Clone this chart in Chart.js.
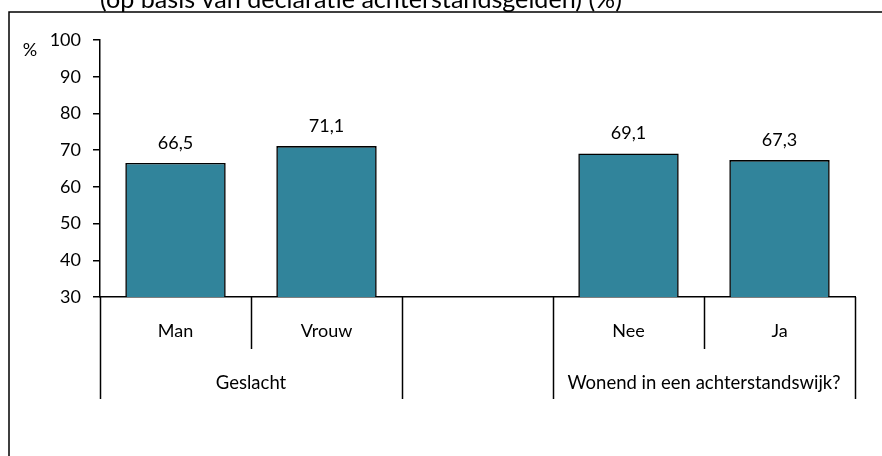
<!DOCTYPE html>
<html><head><meta charset="utf-8">
<script src="https://cdn.jsdelivr.net/npm/chart.js@4.4.1/dist/chart.umd.min.js"></script>
<style>html,body{margin:0;padding:0;background:#fff}#wrap{width:882px;height:456px;position:relative}</style>
</head><body><div id="wrap"><canvas id="c" width="882" height="456"></canvas></div>
<script>
const titleText = "(op basis van declaratie achterstandsgelden) (%)";
const categories = ["Man", "Vrouw", "", "Nee", "Ja"];
const values = [66.5, 71.1, null, 69.1, 67.3];
const valueLabels = ["66,5", "71,1", "", "69,1", "67,3"];
const groupLabels = ["Geslacht", "Wonend in een achterstandswijk?"];
const groupStart = [0, 3];
const groupEnd = [1, 4];
const yMin = 30, yMax = 100, yStep = 10;
const yUnit = "%";

const FONT = "Lato, 'Open Sans', sans-serif";
const barColor = "#31849B";

const decorPlugin = {
  id: 'decor',
  afterDraw(chart) {
    const ctx = chart.ctx;
    const x = chart.scales.x, y = chart.scales.y;
    const ca = chart.chartArea;
    ctx.save();
    // frame
    ctx.strokeStyle = '#000'; ctx.lineWidth = 1.5;
    ctx.beginPath(); ctx.moveTo(9, 456); ctx.lineTo(9, 12); ctx.lineTo(882, 12); ctx.stroke();
    // title (cut off at top)
    let fs = 22;
    ctx.font = fs + 'px ' + FONT;
    const w = ctx.measureText(titleText).width;
    fs = fs * 522 / w;
    ctx.font = fs + 'px ' + FONT;
    ctx.fillStyle = '#000'; ctx.textAlign = 'center'; ctx.textBaseline = 'alphabetic';
    ctx.fillText(titleText, 361, 8);
    // unit
    ctx.font = '18px ' + FONT; ctx.textAlign = 'center'; ctx.textBaseline = 'middle';
    ctx.fillText(yUnit, 30, 50);
    // value labels
    ctx.font = '18px ' + FONT; ctx.textBaseline = 'alphabetic';
    values.forEach((v, i) => {
      if (v === null) return;
      ctx.fillText(valueLabels[i], x.getPixelForValue(i), y.getPixelForValue(v) - 14);
    });
    // category separators
    const half = (x.getPixelForValue(1) - x.getPixelForValue(0)) / 2;
    ctx.lineWidth = 1.5; ctx.strokeStyle = '#000';
    for (let b = 0; b <= categories.length; b++) {
      const px = Math.round(x.getPixelForValue(b) - half) + 0.5;
      const isGroupEdge = groupStart.includes(b) || groupEnd.map(e => e + 1).includes(b);
      const len = isGroupEdge ? 102 : 52;
      ctx.beginPath(); ctx.moveTo(px, ca.bottom); ctx.lineTo(px, ca.bottom + len); ctx.stroke();
    }
    // category labels
    ctx.font = '18px ' + FONT; ctx.textBaseline = 'middle'; ctx.textAlign = 'center';
    categories.forEach((c, i) => { if (c) ctx.fillText(c, x.getPixelForValue(i), ca.bottom + 34); });
    ctx.font = '18.5px ' + FONT;
    groupLabels.forEach((g, k) => {
      const cx = (x.getPixelForValue(groupStart[k]) + x.getPixelForValue(groupEnd[k])) / 2;
      ctx.fillText(g, cx, ca.bottom + 86);
    });
    ctx.restore();
  }
};

new Chart(document.getElementById('c'), {
  type: 'bar',
  data: {
    labels: categories,
    datasets: [{
      data: values,
      backgroundColor: barColor,
      borderColor: '#000',
      borderWidth: 1.6,
      categoryPercentage: 1,
      barPercentage: 0.665
    }]
  },
  options: {
    responsive: false,
    animation: false,
    devicePixelRatio: 1,
    layout: { padding: { top: 40, right: 27, bottom: 0, left: 0 } },
    plugins: { legend: { display: false }, tooltip: { enabled: false }, title: { display: false } },
    scales: {
      x: {
        grid: { display: false, drawTicks: false },
        border: { display: true, color: '#000', width: 1.5 },
        ticks: { display: false },
        afterFit(s) { s.height = 159; }
      },
      y: {
        min: yMin, max: yMax,
        ticks: { stepSize: yStep, color: '#000', font: { family: FONT, size: 18 }, padding: 12 },
        grid: { display: true, drawOnChartArea: false, drawTicks: true, tickLength: 7, color: '#000', lineWidth: 1.5 },
        border: { display: true, color: '#000', width: 1.5 },
        afterFit(s) { s.width = 100; }
      }
    }
  },
  plugins: [decorPlugin]
});
</script>
</body></html>
